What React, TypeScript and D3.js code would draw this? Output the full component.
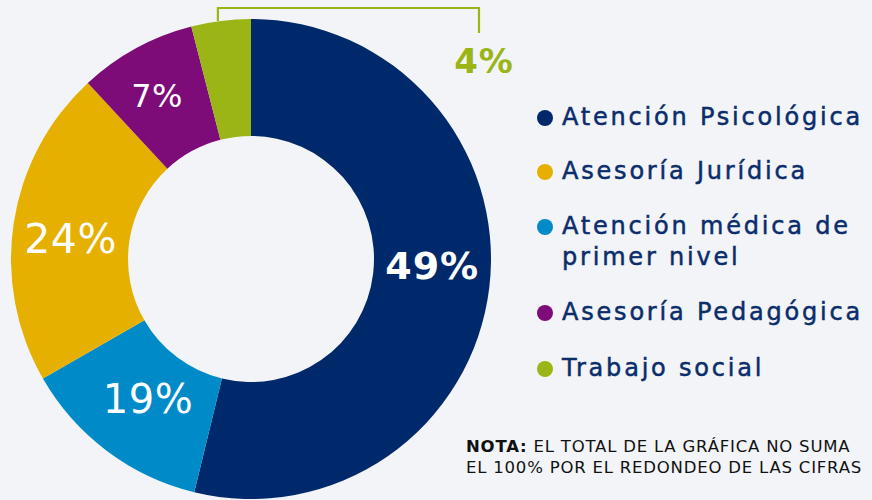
import React, { useEffect, useRef } from "react";
import * as d3 from "d3";

// slice order clockwise from 12 o'clock
const sliceKeys = ["psico", "medica", "juridica", "pedagogica", "social"];
const sliceLabels = ["49%", "19%", "24%", "7%", "4%"];
// arc shares as drawn in the picture (the printed percentages don't add to 100)
const sliceShares = [53.8, 12.9, 21.4, 7.9, 4.0];
const sliceColors = ["#00296b", "#008bc8", "#e6b000", "#7e0c78", "#9ab515"];

const legendKeys = ["psico", "juridica", "medica", "pedagogica", "social"];
const legendLines = [
  ["Atención Psicológica"],
  ["Asesoría Jurídica"],
  ["Atención médica de", "primer nivel"],
  ["Asesoría Pedagógica"],
  ["Trabajo social"],
];

const W = 872;
const H = 500;
const FONT = "'DejaVu Sans', sans-serif";

export default function App() {
  const ref = useRef<SVGSVGElement>(null);

  useEffect(() => {
    const svg = d3.select(ref.current).attr("width", W).attr("height", H);
    svg.selectAll("*").remove();

    svg.append("rect").attr("width", W).attr("height", H).attr("fill", "#f2f4f7");

    const cx = 251;
    const cy = 259;
    const outerR = 240;
    const innerR = 123;

    const data = sliceKeys.map((k, i) => ({
      key: k,
      label: sliceLabels[i],
      value: sliceShares[i],
      color: sliceColors[i],
    }));

    const pie = d3
      .pie<any>()
      .sort(null)
      .value((d) => d.value);
    const arc = d3.arc<any>().innerRadius(innerR).outerRadius(outerR);
    const arcs = pie(data);

    const g = svg.append("g").attr("transform", `translate(${cx},${cy})`);

    g.selectAll("path")
      .data(arcs)
      .join("path")
      .attr("d", arc)
      .attr("fill", (d) => d.data.color);

    // in-slice labels (all but the small green one)
    const sizes: Record<string, number> = { psico: 38, medica: 40, juridica: 41, pedagogica: 32 };
    g.selectAll(".lbl")
      .data(arcs.filter((d) => d.data.key !== "social"))
      .join("text")
      .attr("class", "lbl")
      .attr("x", (d) => arc.centroid(d)[0] + (d.data.key === "medica" ? 6 : d.data.key === "pedagogica" ? -7 : d.data.key === "juridica" ? -1 : 1))
      .attr("y", (d) => arc.centroid(d)[1] + (d.data.key === "psico" ? -15 : d.data.key === "juridica" ? 7 : d.data.key === "medica" ? -5 : -4))
      .attr("text-anchor", "middle")
      .attr("dominant-baseline", "central")
      .attr("font-family", FONT)
      .attr("font-size", (d) => sizes[d.data.key])
      .attr("font-weight", (d) => (d.data.key === "psico" ? 700 : 400))
      .attr("letter-spacing", (d) => (d.data.key === "psico" ? 1 : 0.5))
      .attr("fill", "#ffffff")
      .text((d) => d.data.label);

    // leader for the small slice
    const green = arcs[arcs.length - 1];
    const mid = (green.startAngle + green.endAngle) / 2;
    const sx = cx + outerR * Math.sin(mid) - 3;
    const sy = cy - outerR * Math.cos(mid);
    const lx = 479;
    svg
      .append("path")
      .attr("d", `M${sx},${sy} V8 H${lx} V33`)
      .attr("fill", "none")
      .attr("stroke", green.data.color)
      .attr("stroke-width", 2.2);
    svg
      .append("text")
      .attr("x", 484)
      .attr("y", 73)
      .attr("text-anchor", "middle")
      .attr("font-family", FONT)
      .attr("font-size", 34)
      .attr("font-weight", 700)
      .attr("letter-spacing", 1)
      .attr("fill", green.data.color)
      .text(green.data.label);

    // legend
    const colorOf = (k: string) => sliceColors[sliceKeys.indexOf(k)];
    const rowY = [125, 179, 234, 320, 376];
    const legend = svg.append("g");
    legendKeys.forEach((k, i) => {
      const row = legend.append("g");
      row
        .append("circle")
        .attr("cx", 545)
        .attr("cy", rowY[i] - 7)
        .attr("r", 8)
        .attr("fill", colorOf(k));
      legendLines[i].forEach((line, j) => {
        row
          .append("text")
          .attr("x", 562)
          .attr("y", rowY[i] + j * 31)
          .attr("font-family", FONT)
          .attr("font-size", 24)
          .attr("letter-spacing", 2.8)
          .attr("fill", "#0b2d6b")
          .attr("stroke", "#0b2d6b")
          .attr("stroke-width", 0.5)
          .text(line);
      });
    });

    // note
    const note = svg
      .append("text")
      .attr("font-family", FONT)
      .attr("font-size", 16.5)
      .attr("letter-spacing", 0.8)
      .attr("fill", "#111111");
    const l1 = note.append("tspan").attr("x", 466).attr("y", 452);
    l1.append("tspan").attr("font-weight", 700).text("NOTA:");
    l1.append("tspan").text(" EL TOTAL DE LA GRÁFICA NO SUMA");
    note.append("tspan").attr("x", 466).attr("y", 473).text("EL 100% POR EL REDONDEO DE LAS CIFRAS");
  }, []);

  return <svg ref={ref} style={{ position: "fixed", left: 0, top: 0, display: "block" }} />;
}
